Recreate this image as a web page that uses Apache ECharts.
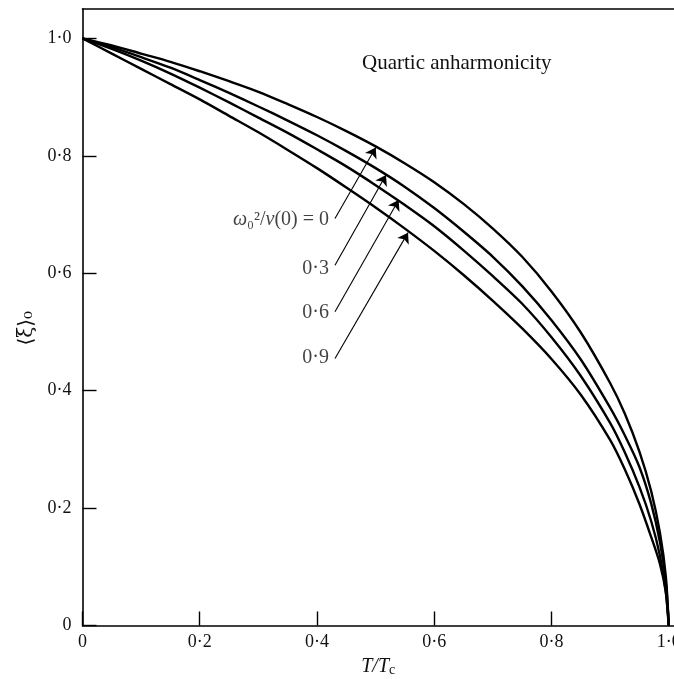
<!DOCTYPE html>
<html>
<head>
<meta charset="utf-8">
<script src="https://cdn.jsdelivr.net/npm/echarts@6/dist/echarts.min.js"></script>
<style>
  html, body { margin: 0; background: #fff; }
  #chart { width: 674px; height: 679px; }
</style>
</head>
<body>
<div id="chart"></div>
<script>
// T/Tc sample points shared by every curve
var tRatio = [0, 0.05, 0.1, 0.15, 0.2, 0.25, 0.3, 0.35, 0.4, 0.45, 0.5, 0.55, 0.6, 0.65,
    0.7, 0.75, 0.8, 0.85, 0.9, 0.925, 0.95, 0.97, 0.985, 0.995, 1.0];

// <xi>_0 for each value of omega0^2 / v(0)
var xi00 = [1.0, 0.988, 0.974, 0.960, 0.944, 0.927, 0.909, 0.888, 0.866, 0.842, 0.816, 0.787, 0.755, 0.718,
    0.676, 0.628, 0.569, 0.499, 0.413, 0.361, 0.296, 0.229, 0.158, 0.084, 0];
var xi03 = [1.0, 0.985, 0.968, 0.950, 0.929, 0.907, 0.884, 0.860, 0.835, 0.808, 0.779, 0.747, 0.711, 0.671,
    0.628, 0.578, 0.520, 0.453, 0.371, 0.324, 0.270, 0.208, 0.142, 0.074, 0];
var xi06 = [1.0, 0.982, 0.962, 0.940, 0.916, 0.891, 0.865, 0.839, 0.811, 0.782, 0.750, 0.716, 0.680, 0.639,
    0.595, 0.548, 0.491, 0.425, 0.345, 0.295, 0.236, 0.178, 0.119, 0.058, 0];
var xi09 = [1.0, 0.974, 0.948, 0.922, 0.896, 0.868, 0.840, 0.810, 0.779, 0.746, 0.712, 0.676, 0.638, 0.597,
    0.553, 0.506, 0.454, 0.393, 0.316, 0.266, 0.207, 0.151, 0.105, 0.057, 0];

// annotation arrows: [startX, startY, tipX, tipY] in data units
var arrows = [
    [0.4307, 0.6933, 0.5002, 0.8140],
    [0.4307, 0.6135, 0.5177, 0.7673],
    [0.4307, 0.5345, 0.5393, 0.7247],
    [0.4307, 0.4548, 0.5553, 0.6691]
];
// annotation labels, right end of text at [x, y]
var labelPos = [[0.4205, 0.6905], [0.4205, 0.6077], [0.4205, 0.5323], [0.4205, 0.4556]];
var labelText = ['{i|ω}{n|₀²/}{i|v}{n|(0) = 0}', '0·3', '0·6', '0·9'];

var serif = '"Liberation Serif", "DejaVu Serif", serif';

function pair(xs, ys) {
    var out = [];
    for (var i = 0; i < xs.length; i++) out.push([xs[i], ys[i]]);
    return out;
}

function tickText(v) {
    if (v === 0) return '0';
    if (Math.abs(v * 5 - Math.round(v * 5)) > 1e-6) return '';
    return v.toFixed(1).replace('.', '·');
}

var chart = echarts.init(document.getElementById('chart'));

var curveStyle = { color: '#000', width: 2.4 };

function curve(name, ys) {
    return {
        name: name,
        type: 'line',
        data: pair(tRatio, ys),
        showSymbol: false,
        smooth: 0.3,
        lineStyle: curveStyle,
        itemStyle: { color: '#000' },
        silent: true
    };
}

var arrowLines = arrows.map(function (a) {
    return [{ coord: [a[0], a[1]] }, { coord: [a[2], a[3]] }];
});

var series = [
    curve('0', xi00),
    curve('0.3', xi03),
    curve('0.6', xi06),
    curve('0.9', xi09),
    {
        type: 'scatter',
        symbolSize: 0,
        silent: true,
        itemStyle: { color: '#000' },
        data: labelPos.map(function (p, i) {
            return { value: p, label: { formatter: labelText[i] } };
        }),
        label: {
            show: true,
            position: 'left',
            distance: 0,
            color: '#111',
            fontFamily: serif,
            fontSize: 20,
            rich: {
                i: { fontFamily: serif, fontStyle: 'italic', fontSize: 20, color: '#111' },
                n: { fontFamily: serif, fontSize: 20, color: '#111' }
            }
        },
        markLine: {
            silent: true,
            symbol: ['none', 'arrow'],
            symbolSize: 10,
            label: { show: false },
            itemStyle: { color: '#000' },
            lineStyle: { color: '#000', width: 1.1, type: 'solid' },
            emphasis: { disabled: true },
            data: arrowLines
        }
    }
];

var axisLineStyle = { color: '#000', width: 1.6 };

var option = {
    animation: false,
    backgroundColor: '#fff',
    title: {
        text: 'Quartic anharmonicity',
        left: 357,
        top: 48,
        textStyle: { fontFamily: serif, fontWeight: 'normal', fontSize: 21, color: '#111' }
    },
    grid: {
        left: 82.5,
        right: 0,
        top: 9,
        bottom: 53.5,
        outerBoundsMode: 'none',
        containLabel: false,
        show: false
    },
    xAxis: [{
        type: 'value',
        min: 0,
        max: 1.009,
        interval: 0.2,
        name: '{i|T/T}{s|c}',
        nameLocation: 'middle',
        nameGap: 27,
        nameTextStyle: {
            rich: {
                i: { fontFamily: serif, fontStyle: 'italic', fontSize: 20, color: '#111' },
                s: { fontFamily: serif, fontSize: 14, color: '#111', verticalAlign: 'bottom', padding: [8, 0, 0, 0] }
            }
        },
        axisLine: { show: true, onZero: false, lineStyle: axisLineStyle },
        axisTick: { show: true, inside: true, length: 14, lineStyle: { color: '#000', width: 1.4 } },
        axisLabel: {
            showMaxLabel: false,
            margin: 8,
            fontFamily: serif,
            fontSize: 18,
            color: '#111',
            formatter: tickText
        },
        splitLine: { show: false }
    }, {
        type: 'value',
        position: 'top',
        min: 0,
        max: 1.009,
        axisLine: { show: true, onZero: false, lineStyle: axisLineStyle },
        axisTick: { show: false },
        axisLabel: { show: false },
        splitLine: { show: false }
    }],
    yAxis: {
        type: 'value',
        min: 0,
        max: 1.05,
        interval: 0.2,
        name: '⟨ξ⟩₀',
        nameLocation: 'middle',
        nameGap: 46,
        nameTextStyle: {
            fontFamily: '"DejaVu Serif", serif',
            fontSize: 20,
            color: '#111',
            padding: [0, 22, 0, 0]
        },
        axisLine: { show: true, onZero: false, lineStyle: axisLineStyle },
        axisTick: { show: true, inside: true, length: 14, lineStyle: { color: '#000', width: 1.4 } },
        axisLabel: {
            showMaxLabel: false,
            margin: 11,
            fontFamily: serif,
            fontSize: 18,
            color: '#111',
            formatter: tickText
        },
        splitLine: { show: false }
    },
    series: series
};

chart.setOption(option);
</script>
</body>
</html>
